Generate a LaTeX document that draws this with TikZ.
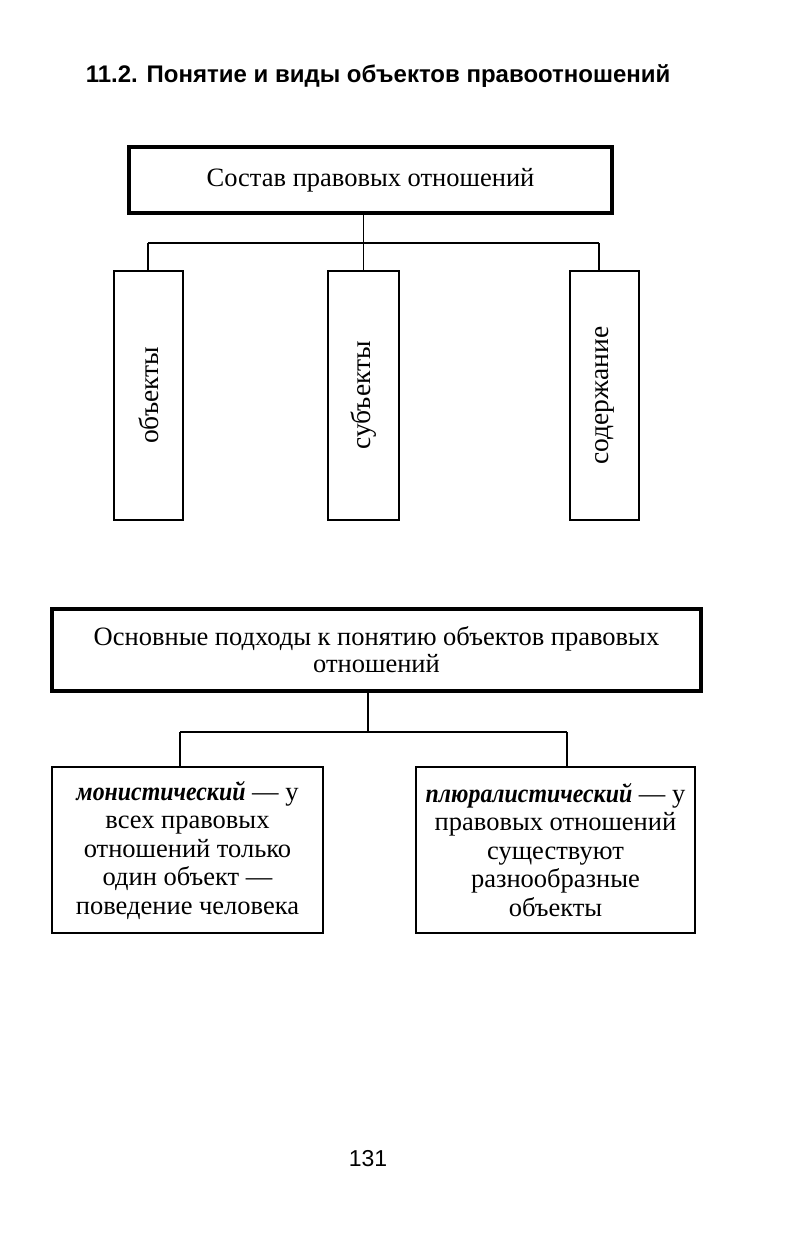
\documentclass[tikz,border=0pt]{standalone}
\usepackage{fontspec}
\usepackage{graphicx}
\setmainfont{Liberation Serif}
\newfontfamily\headfont{Liberation Sans}
\newcommand{\kind}[1]{\scalebox{0.9}[1]{\textbf{\textit{#1}}}}
\begin{document}
\begin{tikzpicture}[x=0.5pt,y=-0.5pt,line width=.75pt,
  thickbox/.style={draw,line width=2pt,inner sep=0pt,align=center},
  thinbox/.style={draw,line width=.75pt,inner sep=0pt,align=center},
  boxfont/.style={font=\fontsize{13.25}{14.25}\selectfont}]
\useasboundingbox (0,0) rectangle (796,1238);
\node[anchor=base west,inner sep=0pt,font=\headfont\bfseries\fontsize{12}{14}\selectfont] (title) at (85,82) {11.2. Понятие и виды объектов правоотношений};
\node[thickbox,boxfont,minimum width=241.5pt,minimum height=33pt] (sostav) at (370.5,180) {Состав правовых отношений};
\node[thinbox,font=\fontsize{13.75}{15}\selectfont,minimum width=34.5pt,minimum height=124.5pt] (obj) at (148.5,395.5) {\rotatebox{90}{объекты}};
\node[thinbox,font=\fontsize{13.75}{15}\selectfont,minimum width=35.5pt,minimum height=124.5pt] (subj) at (363.5,395.5) {\rotatebox{90}{субъекты}};
\node[thinbox,font=\fontsize{13.75}{15}\selectfont,minimum width=34.5pt,minimum height=124.5pt] (soder) at (604.5,395.5) {\rotatebox{90}{содержание}};
\coordinate (jl) at (148,243);
\coordinate (jr) at (599,243);
\draw (jl) -- (jr);
\draw (subj.north) -- (subj.north |- sostav.south);
\draw (jl) -- (jl |- obj.north);
\draw (jr) -- (jr |- soder.north);
\node[thickbox,font=\fontsize{13.25}{13.5}\selectfont,minimum width=324.5pt,minimum height=41pt] (podhody) at (376.5,650) {Основные подходы к понятию объектов правовых\\отношений};
\node[thinbox,boxfont,minimum width=135.5pt,minimum height=83pt] (monist) at (187.5,850) {\kind{монистический} — у\\всех правовых\\отношений только\\один объект —\\поведение человека};
\node[thinbox,boxfont,minimum width=139.5pt,minimum height=83pt] (plural) at (555.5,850) {\kind{плюралистический} — у\\правовых отношений\\существуют\\разнообразные\\объекты};
\coordinate (kl) at (180,732);
\coordinate (km) at (368,732);
\coordinate (kr) at (567,732);
\draw (kl) -- (kr);
\draw (km) -- (km |- podhody.south);
\draw (kl) -- (kl |- monist.north);
\draw (kr) -- (kr |- plural.north);
\node[anchor=base,inner sep=0pt,font=\headfont\fontsize{11.5}{13}\selectfont] (page) at (368,1166) {131};
\end{tikzpicture}
\end{document}
